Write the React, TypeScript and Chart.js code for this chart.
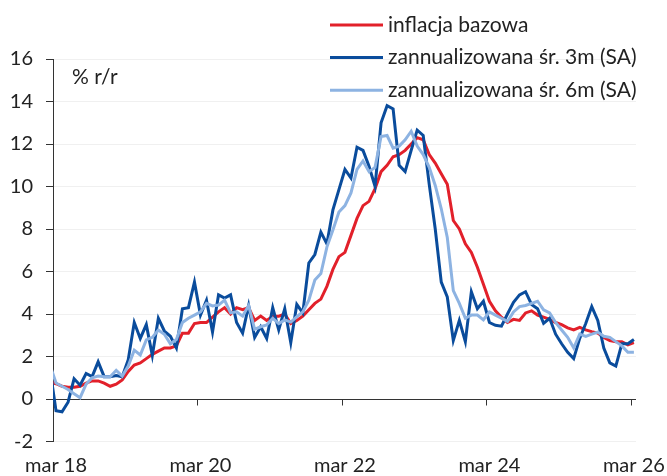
import React, { useEffect, useRef } from "react";
import { Chart, registerables } from "chart.js";

Chart.register(...registerables);

// Months: from "lut 18" (Feb 2018) to "mar 26" (Mar 2026)
const MONTH_NAMES = ["sty", "lut", "mar", "kwi", "maj", "cze", "lip", "sie", "wrz", "paź", "lis", "gru"];
const FIRST_YEAR = 2018;
const FIRST_MONTH = 1; // lut
const MONTH_COUNT = 98;
const CATEGORIES: string[] = Array.from({ length: MONTH_COUNT }, (_, i) => {
  const m = (FIRST_MONTH + i) % 12;
  const y = FIRST_YEAR + Math.floor((FIRST_MONTH + i) / 12);
  return `${MONTH_NAMES[m]} ${String(y).slice(2)}`;
});

const SERIES_NAMES = ["inflacja bazowa", "zannualizowana śr. 3m (SA)", "zannualizowana śr. 6m (SA)"];

// inflacja bazowa, % r/r
const CORE: number[] = [
  0.8,
  0.72, 0.6, 0.55, 0.55, 0.6, 0.75, 0.85, 0.85, 0.75, 0.6,
  0.7, 0.9, 1.3, 1.6, 1.7, 1.9, 2.1, 2.25, 2.4, 2.4, 2.5, 3.1,
  3.1, 3.55, 3.6, 3.6, 3.85, 4.1, 4.3, 4.0, 4.3, 4.2, 4.3, 3.7,
  3.9, 3.7, 3.9, 3.9, 4.0, 3.55, 3.7, 3.9, 4.2, 4.5, 4.7, 5.3,
  6.1, 6.7, 6.9, 7.7, 8.5, 9.1, 9.3, 9.9, 10.7, 11.0, 11.4, 11.5,
  11.7, 12.0, 12.3, 12.2, 11.5, 11.1, 10.6, 10.1, 8.4, 8.0, 7.3, 6.9,
  6.2, 5.4, 4.6, 4.15, 3.85, 3.6, 3.75, 3.7, 4.05, 4.15, 3.95, 3.85,
  3.75, 3.6, 3.5, 3.35, 3.25, 3.37, 3.25, 3.17, 3.1, 2.9, 2.75, 2.7,
  2.7, 2.55, 2.65,
];

// zannualizowana śr. 3m (SA)
const SA3M: number[] = [
  1.4,
  -0.55, -0.6, -0.15, 0.95, 0.65, 1.2, 1.05, 1.75, 1.05, 1.05,
  1.1, 1.05, 1.85, 3.6, 2.85, 3.5, 2.05, 3.8, 3.2, 2.95, 2.4, 4.25,
  4.3, 5.5, 3.95, 4.65, 3.15, 4.9, 4.75, 4.9, 3.6, 3.1, 4.4, 2.9,
  3.4, 2.85, 4.3, 3.25, 4.25, 2.65, 4.45, 4.05, 6.4, 6.8, 7.85, 7.3,
  8.9, 9.85, 10.8, 10.4, 11.85, 11.7, 10.95, 10.0, 13.0, 13.8, 13.65, 11.0,
  10.7, 11.7, 12.65, 12.4, 10.1, 8.0, 5.5, 4.8, 2.75, 3.7, 2.7, 5.05,
  4.25, 4.6, 3.6, 3.47, 3.43, 4.0, 4.55, 4.9, 5.05, 4.45, 4.25, 3.56,
  3.8, 3.05, 2.6, 2.2, 1.9, 2.85, 3.55, 4.35, 3.7, 2.4, 1.7, 1.55,
  2.6, 2.6, 2.8,
];

// zannualizowana śr. 6m (SA)
const SA6M: number[] = [
  1.6,
  0.75, 0.6, 0.45, 0.25, 0.06, 0.7, 1.0, 1.08, 1.05, 1.05,
  1.35, 1.08, 1.55, 2.3, 2.07, 2.78, 2.9, 3.25, 3.05, 2.6, 2.8, 3.6,
  3.8, 3.95, 4.1, 4.5, 4.38, 4.42, 4.65, 4.05, 4.1, 3.9, 4.4, 3.28,
  3.4, 3.48, 3.8, 3.55, 3.72, 3.62, 3.87, 4.1, 4.65, 5.6, 5.9, 7.15,
  7.95, 8.8, 9.1, 9.7, 10.8, 11.2, 10.7, 10.9, 12.35, 12.4, 11.8, 11.9,
  12.2, 12.6, 11.9, 11.5, 10.9, 10.05, 8.95, 7.6, 5.1, 4.5, 3.8, 3.95,
  3.95, 3.72, 4.1, 3.95, 3.8, 3.65, 4.1, 4.35, 4.4, 4.5, 4.6, 4.2,
  4.05, 3.6, 3.25, 2.9, 2.4, 3.05, 2.95, 3.05, 3.15, 2.95, 2.9, 2.7,
  2.5, 2.2, 2.2,
];

const X_TICK_LABELS = ["mar 18", "mar 20", "mar 22", "mar 24", "mar 26"];
const Y_MIN = -2;
const Y_MAX = 16;
const Y_STEP = 2;
const UNIT_LABEL = "% r/r";

const COLORS = ["#e2202a", "#0a4c9c", "#8db3e2"];
const AXIS_COLOR = "#333333";
const GRID_COLOR = "rgba(0,0,0,0.06)";
const TEXT_COLOR = "#222222";
const FONT = "Lato";

export default function App() {
  const ref = useRef<HTMLCanvasElement>(null);

  useEffect(() => {
    document.body.style.margin = "0";
    const canvas = ref.current;
    if (!canvas) return;

    // month index of category -> position on the linear month axis (mid-month), Mar 2018 starts at 0
    const firstTickIdx = CATEGORIES.indexOf("mar 18");
    const pts = (arr: number[]) => arr.map((v, i) => ({ x: i - firstTickIdx + 0.5, y: v }));
    const tickPositions = X_TICK_LABELS.map((l) => CATEGORIES.indexOf(l) - firstTickIdx);

    const overlay = {
      id: "overlay",
      beforeDatasetsDraw(chart: any) {
        const { ctx, chartArea, scales } = chart;
        const y0 = Math.round(scales.y.getPixelForValue(0)) + 0.5;
        ctx.save();
        ctx.strokeStyle = AXIS_COLOR;
        ctx.lineWidth = 1;
        ctx.beginPath();
        ctx.moveTo(chartArea.left - 7, y0);
        ctx.lineTo(chartArea.right, y0);
        tickPositions.forEach((p) => {
          const x = Math.round(scales.x.getPixelForValue(p)) + 0.5;
          ctx.moveTo(x, y0);
          ctx.lineTo(x, y0 + 6);
        });
        ctx.stroke();
        ctx.restore();
      },
      afterDraw(chart: any) {
        const { ctx, chartArea } = chart;
        ctx.save();
        ctx.font = `21px ${FONT}`;
        ctx.fillStyle = TEXT_COLOR;
        ctx.textBaseline = "middle";
        ctx.textAlign = "left";
        ctx.fillText(UNIT_LABEL, chartArea.left + 19, chartArea.top + 18);
        chart.data.datasets.forEach((ds: any, i: number) => {
          const y = 25 + i * 32.6;
          ctx.strokeStyle = ds.borderColor;
          ctx.lineWidth = 3;
          ctx.beginPath();
          ctx.moveTo(330, y);
          ctx.lineTo(383, y);
          ctx.stroke();
          ctx.fillStyle = TEXT_COLOR;
          ctx.fillText(ds.label, 388, y);
        });
        ctx.restore();
      },
    };

    const datasets = [CORE, SA3M, SA6M].map((arr, i) => ({
      label: SERIES_NAMES[i],
      data: pts(arr),
      borderColor: COLORS[i],
      backgroundColor: COLORS[i],
      borderWidth: 3,
      pointRadius: 0,
      tension: 0,
      fill: false,
      order: 3 - i,
    }));

    const chart = new Chart(canvas, {
      type: "line",
      data: { datasets },
      options: {
        animation: false,
        responsive: false,
        devicePixelRatio: 1,
        layout: { padding: { top: 59, right: 31, left: 0, bottom: 0 } },
        plugins: { legend: { display: false }, tooltip: { enabled: false } },
        scales: {
          x: {
            type: "linear",
            min: 0,
            max: 96.85,
            afterBuildTicks: (scale: any) => {
              scale.ticks = tickPositions.map((v) => ({ value: v }));
            },
            afterFit: (scale: any) => {
              scale.height = 34.5;
              scale.paddingLeft = 0;
              scale.paddingRight = 0;
            },
            grid: { display: false, drawTicks: false },
            border: { display: false },
            ticks: {
              autoSkip: false,
              maxRotation: 0,
              padding: 12,
              labelOffset: 3,
              color: TEXT_COLOR,
              font: { family: FONT, size: 20 },
              callback: (value: any) => {
                const i = tickPositions.indexOf(Number(value));
                return i >= 0 ? X_TICK_LABELS[i] : "";
              },
            },
          },
          y: {
            type: "linear",
            min: Y_MIN,
            max: Y_MAX,
            afterFit: (scale: any) => {
              scale.width = 53;
              scale.paddingTop = 0;
              scale.paddingBottom = 0;
            },
            border: { display: true, color: AXIS_COLOR, width: 1 },
            grid: {
              color: (c: any) => (c.tick && c.tick.value === 0 ? "rgba(0,0,0,0)" : GRID_COLOR),
              tickColor: AXIS_COLOR,
              tickLength: 7,
              drawTicks: true,
            },
            ticks: {
              stepSize: Y_STEP,
              padding: 13,
              color: TEXT_COLOR,
              font: { family: FONT, size: 20 },
            },
          },
        },
      },
      plugins: [overlay],
    });

    return () => chart.destroy();
  }, []);

  return (
    <div style={{ width: 667, height: 476, position: "relative" }}>
      <canvas ref={ref} width={667} height={476} style={{ display: "block" }} />
    </div>
  );
}
